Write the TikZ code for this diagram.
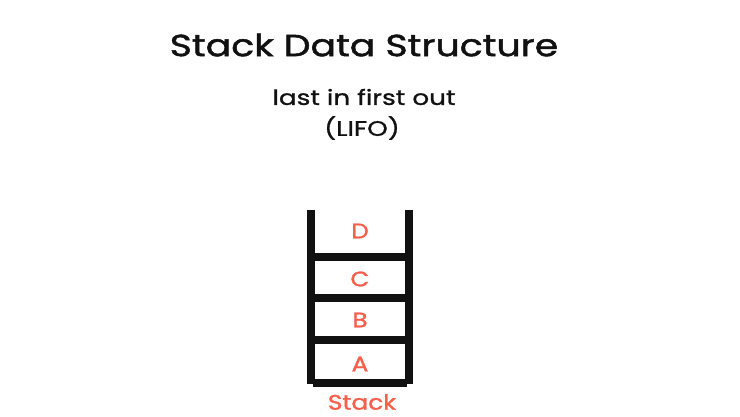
\documentclass[tikz,border=0pt]{standalone}
\usepackage{fontspec}
\setmainfont{Poppins}
\newfontfamily\headfont[FakeStretch=1.24,FakeBold=1.6]{Poppins}
\newfontfamily\subfont[FakeStretch=1.25,FakeBold=1.1]{Poppins}
\newfontfamily\itemfont[FakeStretch=1.18,FakeBold=1.4]{Poppins}
\definecolor{stackred}{HTML}{F55F4C}
\definecolor{ink}{HTML}{111111}
\begin{document}
\begin{tikzpicture}[x=1pt,y=-1pt,
  post/.style={line width=8.5pt, draw=ink},
  rung/.style={line width=8pt, draw=ink},
  item/.style={text=stackred, font=\itemfont\fontsize{21}{24}\selectfont, inner sep=0pt},
  heading/.style={text=ink, inner sep=0pt}]
\useasboundingbox (0,0) rectangle (740,417);
\node[heading, font=\headfont\fontsize{30.5}{34}\selectfont] (title) at (364,45) {Stack Data Structure};
\node[heading, font=\subfont\fontsize{21}{24}\selectfont] (sub) at (364,97) {last in first out};
\node[heading, font=\subfont\fontsize{21}{24}\selectfont] (lifo) at (362,128) {(LIFO)};
% stack frame
\coordinate (lt) at (311,210);
\coordinate (lb) at (311,384);
\coordinate (rt) at (409,210);
\coordinate (rb) at (409,384);
\draw[post] (lt) -- (lb);
\draw[post] (rt) -- (rb);
\coordinate (b1l) at (313,383); \coordinate (b1r) at (407,383);
\draw[rung] (b1l) -- (b1r);
\coordinate (r1l) at (315,257); \coordinate (r1r) at (405,257);
\coordinate (r2l) at (315,298); \coordinate (r2r) at (405,298);
\coordinate (r3l) at (315,340); \coordinate (r3r) at (405,340);
\draw[rung] (r1l) -- (r1r);
\draw[rung] (r2l) -- (r2r);
\draw[rung] (r3l) -- (r3r);
\node[item] (d) at (360,231) {D};
\node[item] (c) at (360,279) {C};
\node[item] (b) at (360,320) {B};
\node[item] (a) at (360,364) {A};
\node[item] (stack) at (362,402) {Stack};
\end{tikzpicture}
\end{document}
